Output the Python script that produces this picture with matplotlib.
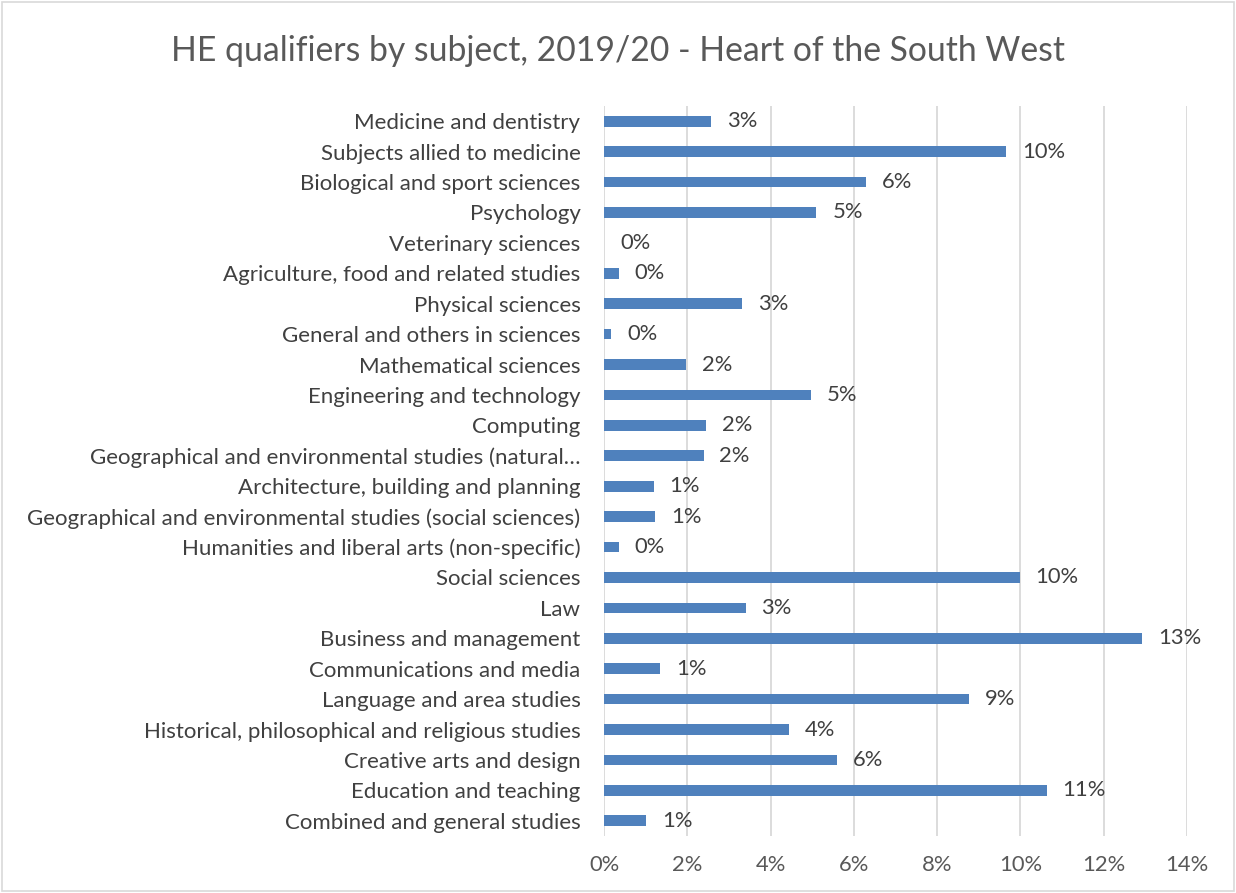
import matplotlib.pyplot as plt
from matplotlib.patches import Rectangle
from matplotlib.ticker import FuncFormatter

subjects = [
    "Medicine and dentistry",
    "Subjects allied to medicine",
    "Biological and sport sciences",
    "Psychology",
    "Veterinary sciences",
    "Agriculture, food and related studies",
    "Physical sciences",
    "General and others in sciences",
    "Mathematical sciences",
    "Engineering and technology",
    "Computing",
    "Geographical and environmental studies (natural…",
    "Architecture, building and planning",
    "Geographical and environmental studies (social sciences)",
    "Humanities and liberal arts (non-specific)",
    "Social sciences",
    "Law",
    "Business and management",
    "Communications and media",
    "Language and area studies",
    "Historical, philosophical and religious studies",
    "Creative arts and design",
    "Education and teaching",
    "Combined and general studies",
]
share = [2.57, 9.66, 6.30, 5.10, 0.0, 0.35, 3.31, 0.18, 1.97, 4.97, 2.45, 2.39,
         1.19, 1.23, 0.35, 9.98, 3.40, 12.92, 1.35, 8.77, 4.44, 5.59, 10.63, 1.02]

plt.rcParams['font.family'] = ['Lato', 'DejaVu Sans']

fig = plt.figure(figsize=(12.36, 8.93), dpi=100)
ax = fig.add_axes([604 / 1236, 1 - 836 / 893, (1187 - 604) / 1236, (836 - 106) / 893])

ypos = list(range(len(subjects)))
ax.barh(ypos, share, height=0.35, color='#4f81bd', linewidth=0, zorder=3)
for y, v in zip(ypos, share):
    ax.annotate(f"{v:.0f}%", (v, y), xytext=(11.5, 0), textcoords='offset points',
                va='center', ha='left', fontsize=15.8, color='#404040')

ax.set_ylim(len(subjects) - 0.5, -0.5)
ax.set_xlim(0, 14)
ax.set_xticks(range(0, 15, 2))
ax.xaxis.set_major_formatter(FuncFormatter(lambda x, p: f"{x:.0f}%"))
ax.set_yticks(ypos)
ax.set_yticklabels(subjects)
ax.tick_params(axis='y', length=0, pad=17, labelsize=16, labelcolor='#404040')
ax.tick_params(axis='x', length=0, pad=14, labelsize=15.8, labelcolor='#595959')
ax.grid(axis='x', color='#d9d9d9', linewidth=1.3, zorder=0)
for s in ax.spines.values():
    s.set_visible(False)

fig.text(0.5, 1 - 51 / 893, "HE qualifiers by subject, 2019/20 - Heart of the South West",
         ha='center', va='center', fontsize=24.3, color='#595959')
fig.patches.append(Rectangle((0.002, 0.002), 0.996, 0.996, transform=fig.transFigure,
                             fill=False, edgecolor='#d9d9d9', linewidth=1.2))

fig.savefig("out.png", dpi=100)
